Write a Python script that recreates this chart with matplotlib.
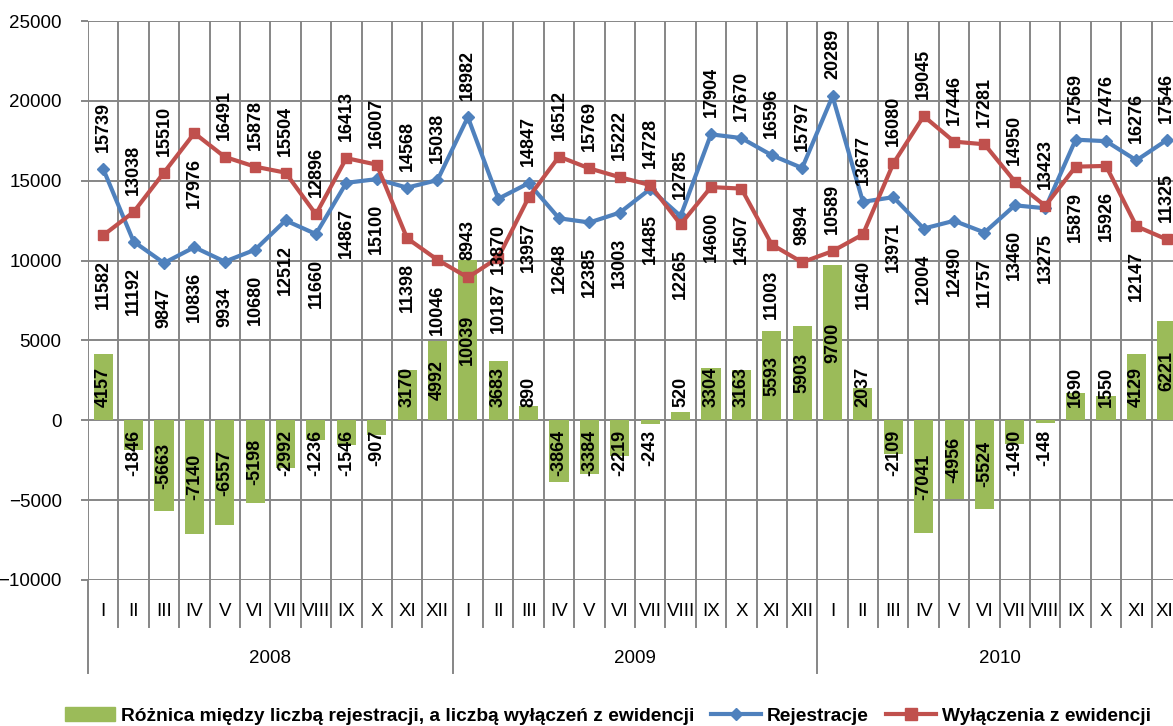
import numpy as np
import matplotlib.pyplot as plt
from matplotlib.patches import Patch
from matplotlib.lines import Line2D

plt.rcParams['font.family'] = ['Liberation Sans', 'DejaVu Sans']

# Data
years = ['2008', '2009', '2010']
months = ['I', 'II', 'III', 'IV', 'V', 'VI', 'VII', 'VIII', 'IX', 'X', 'XI', 'XII']

rejestracje = [15739, 11192, 9847, 10836, 9934, 10680, 12512, 11660, 14867, 15100, 14568, 15038,
               18982, 13870, 14847, 12648, 12385, 13003, 14485, 12785, 17904, 17670, 16596, 15797,
               20289, 13677, 13971, 12004, 12490, 11757, 13460, 13275, 17569, 17476, 16276, 17546]
wylaczenia = [11582, 13038, 15510, 17976, 16491, 15878, 15504, 12896, 16413, 16007, 11398, 10046,
              8943, 10187, 13957, 16512, 15769, 15222, 14728, 12265, 14600, 14507, 11003, 9894,
              10589, 11640, 16080, 19045, 17446, 17281, 14950, 13423, 15879, 15926, 12147, 11325]
roznica = [4157, -1846, -5663, -7140, -6557, -5198, -2992, -1236, -1546, -907, 3170, 4992,
           10039, 3683, 890, -3864, -3384, -2219, -243, 520, 3304, 3163, 5593, 5903,
           9700, 2037, -2109, -7041, -4956, -5524, -1490, -148, 1690, 1550, 4129, 6221]

# where each line label sits: 1 above the point, -1 below
rej_pos = [1, -1, -1, -1, -1, -1, -1, -1, -1, -1, 1, 1,
           1, -1, 1, -1, -1, -1, -1, 1, 1, 1, 1, 1,
           1, 1, -1, -1, -1, -1, -1, -1, 1, 1, 1, 1]
wyl_pos = [-1, 1, 1, -1, 1, 1, 1, 1, 1, 1, -1, -1,
           1, -1, -1, 1, 1, 1, 1, -1, -1, -1, -1, 1,
           1, -1, 1, 1, 1, 1, 1, 1, -1, -1, -1, 1]

W, H = 1173, 726
fig = plt.figure(figsize=(W / 100, H / 100), dpi=100)
ax = fig.add_axes([88 / W, 1 - 580 / H, 1094 / W, 559 / H])

grid_c = '#868686'
x = np.arange(len(roznica))
ax.set_xlim(-0.5, 35.5)
ax.set_ylim(-10000, 25000)
ax.set_yticks(range(-10000, 25001, 5000))
ax.set_xticks([])
for s in ax.spines.values():
    s.set_visible(False)
ax.yaxis.grid(True, color=grid_c, lw=1.4, zorder=0)
ax.set_axisbelow(True)
ax.tick_params(axis='y', length=5, width=1.4, color=grid_c, labelsize=13.5, pad=14)

# bars and lines
ax.bar(x, roznica, width=0.63, color='#9BBB59', zorder=2)
ax.plot(x, rejestracje, color='#4F81BD', lw=3, marker='D', ms=6, zorder=3)
ax.plot(x, wylaczenia, color='#C0504D', lw=3, marker='s', ms=7.5, zorder=4)

# vertical category lines, extended into the label area
xt = ax.get_xaxis_transform()
for b in np.arange(-0.5, 36, 1):
    ax.axvline(b, color=grid_c, lw=1.4, zorder=1)
    low = -0.166 if b in (-0.5, 11.5, 23.5, 35.5) else -0.084
    ax.plot([b, b], [0, low], transform=xt, color=grid_c, lw=1.4, clip_on=False)

for i in x:
    ax.text(i, -0.057, months[i % 12], transform=xt, ha='center', va='center', fontsize=13.5)
for k, y in enumerate(years):
    ax.text(5.5 + 12 * k, -0.14, y, transform=xt, ha='center', va='center', fontsize=13.5)

# line labels
lab = dict(rotation=90, ha='center', fontsize=13, fontweight='bold',
           textcoords='offset pixels', zorder=6)
for i in x:
    for vals, pos in ((rejestracje, rej_pos), (wylaczenia, wyl_pos)):
        v, p = vals[i], pos[i]
        ax.annotate(str(v), (i, v), xytext=(0, 17 if p > 0 else -25),
                    va='bottom' if p > 0 else 'top', **lab)

# bar labels
ppu = 559 / 35000
for i, v in enumerate(roznica):
    s = str(v)
    half = len(s) * 10 / 2
    if v >= 0:
        off = max(v * ppu / 2, 13 + half)
    else:
        off = -max(-v * ppu / 2, 8 + half)
    ax.annotate(s, (i, 0), xytext=(0, off), va='center', **lab)

handles = [Patch(color='#9BBB59'),
           Line2D([], [], color='#4F81BD', lw=3, marker='D', ms=6),
           Line2D([], [], color='#C0504D', lw=3, marker='s', ms=8)]
labels = ['Różnica między liczbą rejestracji, a liczbą wyłączeń z ewidencji',
          'Rejestracje', 'Wyłączenia z ewidencji']
fig.legend(handles, labels, loc='center', bbox_to_anchor=(608 / W, 1 - 716 / H), ncol=3,
           frameon=False, prop=dict(weight='bold', size=13.8), handlelength=2.6,
           handletextpad=0.3, columnspacing=0.9)

fig.savefig('out.png', dpi=100)
